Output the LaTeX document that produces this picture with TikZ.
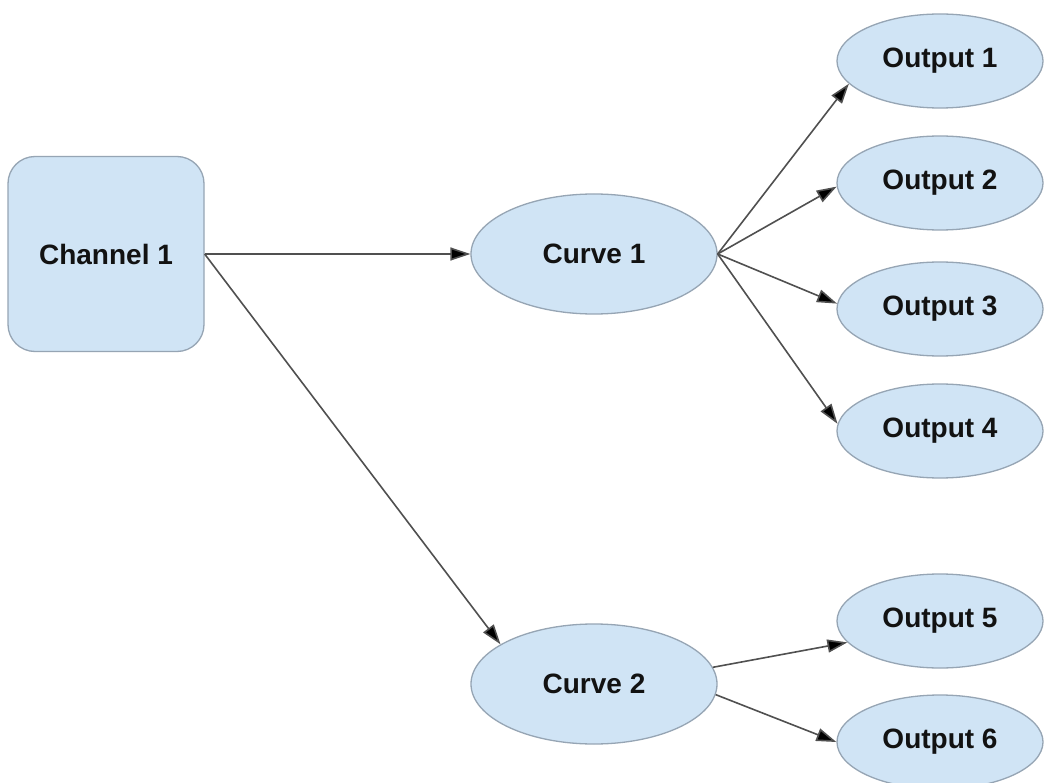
\documentclass[tikz,border=0pt]{standalone}
\usepackage{fontspec}
\setmainfont{Liberation Sans}
\usetikzlibrary{shapes.geometric,arrows.meta}
\definecolor{nodefill}{RGB}{208,228,245}
\definecolor{nodeline}{RGB}{150,165,180}
\definecolor{edgeline}{RGB}{80,80,80}
\tikzset{
  base/.style={draw=nodeline, fill=nodefill, line width=1.3pt, inner sep=0pt,
    font=\fontsize{28}{32}\selectfont\bfseries, text=black!93},
  channelbox/.style={base, rectangle, rounded corners=27pt,
    minimum width=196pt, minimum height=195pt},
  curvenode/.style={base, ellipse, minimum width=246pt, minimum height=120pt},
  outnode/.style={base, ellipse, minimum width=206pt, minimum height=94pt},
  link/.style={draw=edgeline, line width=1.6pt,
    -{Triangle[length=20pt 0 0,width=13pt 0 0,fill=black]}}
}
\begin{document}
\begin{tikzpicture}[x=1pt,y=-1pt]
  \clip (0,0) rectangle (1046,783);
  \fill[white] (0,0) rectangle (1046,783);

  % source, curves and outputs
  \node[channelbox] (ch) at (106,254) {Channel 1};
  \node[curvenode]  (c1) at (594,254) {Curve 1};
  \node[curvenode]  (c2) at (594,684) {Curve 2};
  \node[outnode] (o1) at (940,61)  {Output 1};
  \node[outnode] (o2) at (940,183) {Output 2};
  \node[outnode] (o3) at (940,309) {Output 3};
  \node[outnode] (o4) at (940,431) {Output 4};
  \node[outnode] (o5) at (940,621) {Output 5};
  \node[outnode] (o6) at (940,742) {Output 6};

  % connections
  \draw[link] (ch.east) -- (c1.west);
  \draw[link] (ch.east) -- (c2.157);
  \draw[link] (c1.east) -- (o1.194);
  \draw[link] (c1.east) -- (o2.182);
  \draw[link] (c1.east) -- (o3.177);
  \draw[link] (c1.east) -- (o4.176);
  \draw[link] (c2.8)  -- (o5.193);
  \draw[link] (c2.-5) -- (o6.180);
\end{tikzpicture}
\end{document}
